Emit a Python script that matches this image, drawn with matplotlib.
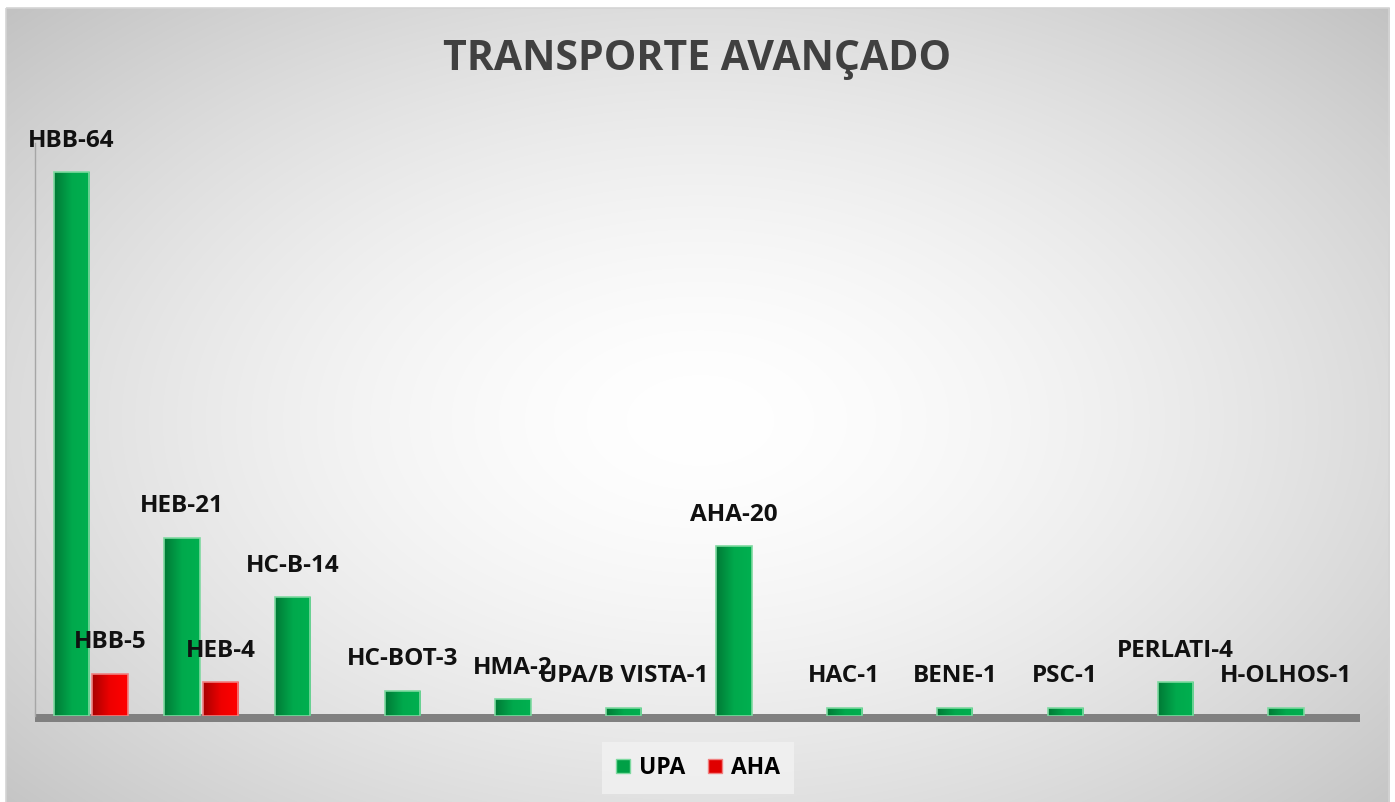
import numpy as np
import matplotlib
matplotlib.use("Agg")
import matplotlib.pyplot as plt
from matplotlib.colors import LinearSegmentedColormap
from matplotlib.patches import Rectangle, Patch

# Chart data
categories = ["HBB", "HEB", "HC-B", "HC-BOT", "HMA", "UPA/B VISTA",
              "AHA", "HAC", "BENE", "PSC", "PERLATI", "H-OLHOS"]
upa = [64, 21, 14, 3, 2, 1, 20, 1, 1, 1, 4, 1]
aha = [5, 4, None, None, None, None, None, None, None, None, None, None]
series_names = ["UPA", "AHA"]
title = "TRANSPORTE AVANÇADO"

plt.rcParams['font.family'] = ['Open Sans', 'DejaVu Sans']

W, H = 1395, 802
fig = plt.figure(figsize=(W / 100, H / 100), dpi=100)

# Radial gradient background
bg_ax = fig.add_axes([0, 0, 1, 1], zorder=-10)
yy, xx = np.mgrid[0:H, 0:W]
r = np.sqrt(((xx - 700) / 700.0) ** 2 + ((yy - 420) / 430.0) ** 2) / np.sqrt(2)
val = 1 - 0.25 * np.clip(r, 0, 1.2) ** 1.6
inside = (xx >= 6) & (xx <= 1389) & (yy >= 8)
val = np.where(inside, val, 1.0)
img = np.dstack([val, val, val])
bg_ax.imshow(img, extent=[0, W, H, 0], aspect='auto', interpolation='bilinear')
bg_ax.add_patch(Rectangle((6, 8), 1383, 800, fill=False, edgecolor='#d4d4d4', lw=1.2))
bg_ax.set_xlim(0, W)
bg_ax.set_ylim(H, 0)
bg_ax.axis('off')

# Main axes
ax_top = 138
ax_bottom = 716
ax = fig.add_axes([35 / W, (H - ax_bottom) / H, (1360 - 35) / W, (ax_bottom - ax_top) / H])
ax.patch.set_alpha(0)

green_cmap = LinearSegmentedColormap.from_list('g', ['#007a36', '#00a94c', '#00b050'])
red_cmap = LinearSegmentedColormap.from_list('r', ['#a80000', '#ee0000', '#ff0000'])
grad = np.linspace(0, 1, 64).reshape(1, -1)

bar_w = 0.32
offsets = [-0.17, 0.18]
x = np.arange(len(categories))


def draw_bars(values, offset, cmap, edge):
    for i, v in enumerate(values):
        if v is None:
            continue
        x0 = x[i] + offset - bar_w / 2
        bar = Rectangle((x0, 0), bar_w, v, facecolor='none', edgecolor=edge,
                        lw=1.2, zorder=4)
        ax.add_patch(bar)
        im = ax.imshow(grad, extent=[x0, x0 + bar_w, 0, v], aspect='auto',
                       cmap=cmap, zorder=3, interpolation='bilinear')
        im.set_clip_path(bar)
        ax.annotate(f"{categories[i]}-{v}", (x[i] + offset, v), xytext=(0, 22.5),
                    textcoords='offset points', ha='center', va='center',
                    fontsize=17.5, fontweight='bold', color='#111111', zorder=6)


draw_bars(upa, offsets[0], green_cmap, '#7ed9a0')
draw_bars(aha, offsets[1], red_cmap, '#f08080')

ax.set_xlim(-0.5, len(categories) - 0.5)
ax.set_ylim(0, (ax_bottom - ax_top) / 8.5)

# floor
ax.add_patch(Rectangle((0, -6 / 578), 1, 8 / 578, transform=ax.transAxes,
                       facecolor='#808080', edgecolor='none', clip_on=False, zorder=2))

for s in ['top', 'right', 'bottom']:
    ax.spines[s].set_visible(False)
ax.spines['left'].set_color('#a6a6a6')
ax.spines['left'].set_linewidth(1)
ax.spines['left'].set_bounds(0, (ax_bottom - 143) / 8.5)
ax.set_xticks([])
ax.set_yticks([])

fig.text(697 / W, 1 - 60 / H, title, ha='center', va='center',
         fontsize=29.5, fontweight='bold', color='#404040')

handles = [Patch(facecolor='#00a046', edgecolor='#7ed9a0', label=series_names[0]),
           Patch(facecolor='#e00000', edgecolor='#f08080', label=series_names[1])]
leg = fig.legend(handles=handles, loc='center', bbox_to_anchor=(698 / W, 1 - 768 / H),
                 ncol=2, frameon=True, handlelength=0.6, handleheight=0.6,
                 handletextpad=0.4, columnspacing=1.0, borderpad=0.6,
                 prop={'weight': 'bold', 'size': 16.5})
leg.get_frame().set_facecolor('#f2f2f2')
leg.get_frame().set_edgecolor('none')
leg.get_frame().set_boxstyle('square', pad=0)

fig.savefig('out.png', dpi=100)
